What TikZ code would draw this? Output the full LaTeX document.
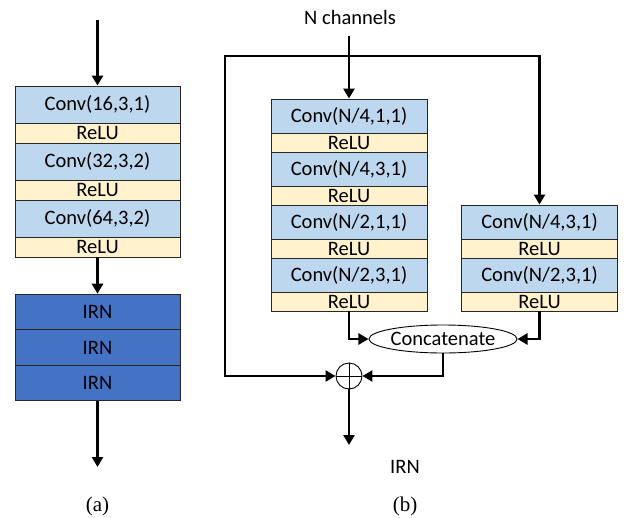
\documentclass[tikz,border=0pt]{standalone}
\usepackage{fontspec}
\setmainfont{Carlito}
\newfontfamily\capfont{Liberation Serif}
\usetikzlibrary{arrows.meta,shapes.geometric}
\definecolor{convblue}{RGB}{189,215,238}
\definecolor{relucream}{RGB}{255,242,204}
\definecolor{irnblue}{RGB}{68,114,196}
\begin{document}
\begin{tikzpicture}[x=1pt,y=-1pt,
    layer/.style={draw=black!85, line width=0.9pt, inner sep=0pt, font=\fontsize{20.5}{22}\selectfont},
    conva/.style={layer, fill=convblue, minimum width=165pt, minimum height=37pt},
    relua/.style={layer, fill=relucream, minimum width=165pt, minimum height=20pt},
    irn/.style={layer, fill=irnblue, minimum width=165pt, minimum height=35.7pt},
    convb/.style={layer, fill=convblue, minimum width=156pt, minimum height=34pt},
    relub/.style={layer, fill=relucream, minimum width=156pt, minimum height=19pt},
    flow/.style={line width=2.5pt},
    arr/.style={flow, -{Triangle[length=10pt,width=11pt]}},
    caption/.style={font=\capfont\fontsize{21}{23}\selectfont}]
    \useasboundingbox (0,0) rectangle (624,517);

    % (a)
    \node[conva] (ca1) at (97.5,104.5) {Conv(16,3,1)};
    \node[relua] (ra1) at (97.5,133) {ReLU};
    \node[conva] (ca2) at (97.5,161.5) {Conv(32,3,2)};
    \node[relua] (ra2) at (97.5,190) {ReLU};
    \node[conva] (ca3) at (97.5,218.5) {Conv(64,3,2)};
    \node[relua] (ra3) at (97.5,247) {ReLU};

    \node[irn] (irn1) at (97.5,312) {IRN};
    \node[irn] (irn2) at (97.5,347.5) {IRN};
    \node[irn] (irn3) at (97.5,383) {IRN};

    \coordinate (ina) at (97.5,20);
    \coordinate (outa) at (97.5,467);
    \draw[arr] (ina) -- (ca1.north);
    \draw[arr] (ra3.south) -- (irn1.north);
    \draw[arr] (irn3.south) -- (outa);
    \node[caption] (capa) at (97.5,506) {(a)};

    % (b)
    \node[font=\fontsize{20.5}{22}\selectfont] (nch) at (350,17) {N channels};

    \node[convb] (lc1) at (349,116) {Conv(N/4,1,1)};
    \node[relub] (lr1) at (349,142.5) {ReLU};
    \node[convb] (lc2) at (349,169) {Conv(N/4,3,1)};
    \node[relub] (lr2) at (349,195.5) {ReLU};
    \node[convb] (lc3) at (349,222) {Conv(N/2,1,1)};
    \node[relub] (lr3) at (349,248.5) {ReLU};
    \node[convb] (lc4) at (349,275) {Conv(N/2,3,1)};
    \node[relub] (lr4) at (349,301.5) {ReLU};

    \node[convb] (rc1) at (539.5,222) {Conv(N/4,3,1)};
    \node[relub] (rr1) at (539.5,248.5) {ReLU};
    \node[convb] (rc2) at (539.5,275) {Conv(N/2,3,1)};
    \node[relub] (rr2) at (539.5,301.5) {ReLU};

    \node[ellipse, draw=black, line width=0.9pt, inner sep=0pt, minimum width=132pt, minimum height=28pt,
          font=\fontsize{20.5}{22}\selectfont] (cat) at (443,339) {Concatenate};
    \node[circle, draw=black, line width=0.9pt, minimum size=26pt, inner sep=0pt,
          path picture={\draw[line width=0.9pt] (path picture bounding box.north) -- (path picture bounding box.south)
                        (path picture bounding box.west) -- (path picture bounding box.east);}] (plus) at (349,376) {};

    \coordinate (inb) at (349,36);
    \coordinate (split) at (349,56);
    \coordinate (tl) at (225,56);
    \coordinate (outb) at (349,445);

    \draw[arr] (inb) -- (lc1.north);
    \draw[arr] (split) -| (rc1.north);
    \draw[arr] (split) -- (tl) |- (plus.west);
    \draw[arr] (lr4.south) |- (cat.west);
    \draw[arr] (rr2.south) |- (cat.east);
    \draw[arr] (cat.south) |- (plus.east);
    \draw[arr] (plus.south) -- (outb);

    \node[font=\fontsize{20.5}{22}\selectfont] (irnb) at (405,467) {IRN};
    \node[caption] (capb) at (405,506) {(b)};
\end{tikzpicture}
\end{document}
